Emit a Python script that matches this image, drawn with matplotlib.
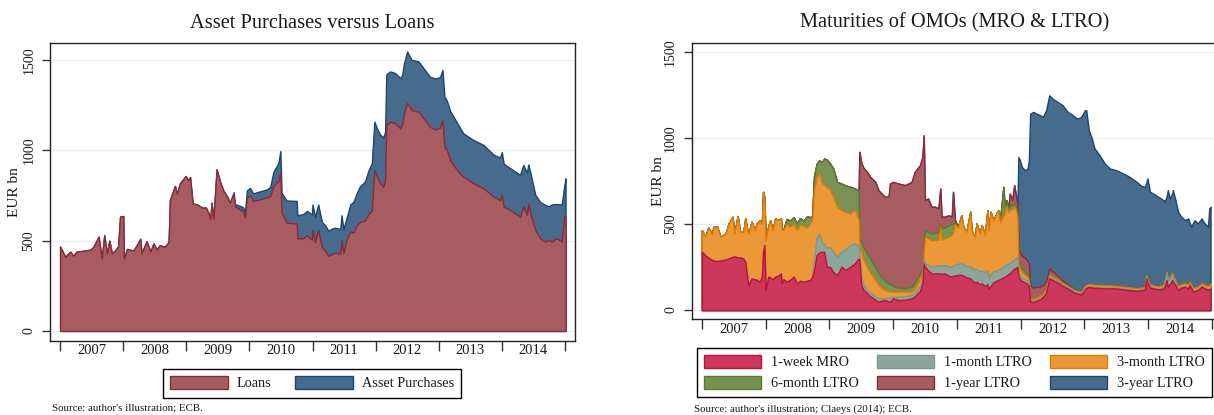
import matplotlib.pyplot as plt
import numpy as np

plt.rcParams['font.family'] = ['Liberation Serif', 'DejaVu Serif']

# ---- left panel: loans vs asset purchases (EUR bn, weekly)
loan_dates = [
    2007.00, 2007.08, 2007.16, 2007.21, 2007.26, 2007.37, 2007.48, 2007.53, 2007.61, 2007.66, 2007.70, 2007.74, 2007.78, 2007.82, 2007.87, 2007.92, 2007.95,
    2008.00, 2008.01, 2008.06, 2008.16, 2008.22, 2008.27, 2008.29, 2008.37, 2008.43, 2008.48, 2008.53, 2008.58, 2008.66, 2008.72, 2008.74, 2008.78, 2008.82, 2008.85, 2008.90, 2008.99,
    2009.03, 2009.06, 2009.10, 2009.17, 2009.25, 2009.31, 2009.35, 2009.38, 2009.40, 2009.43, 2009.48, 2009.54, 2009.59, 2009.64, 2009.69, 2009.75, 2009.77, 2009.85, 2009.90, 2009.93, 2009.96,
    2010.01, 2010.06, 2010.28, 2010.33, 2010.38, 2010.46, 2010.49, 2010.51, 2010.59, 2010.75, 2010.76, 2010.86, 2010.91, 2010.99,
    2011.00, 2011.04, 2011.09, 2011.15, 2011.20, 2011.25, 2011.33, 2011.36, 2011.44, 2011.46, 2011.49, 2011.54, 2011.60, 2011.65, 2011.70, 2011.75, 2011.83, 2011.89, 2011.94, 2011.98,
    2012.02, 2012.07, 2012.12, 2012.15, 2012.17, 2012.23, 2012.31, 2012.39, 2012.42, 2012.45, 2012.50, 2012.57, 2012.68, 2012.78, 2012.86, 2012.94,
    2013.02, 2013.06, 2013.09, 2013.13, 2013.18, 2013.29, 2013.39, 2013.55, 2013.71, 2013.87, 2013.97,
    2014.00, 2014.03, 2014.13, 2014.29, 2014.34, 2014.40, 2014.42, 2014.46, 2014.53, 2014.61, 2014.69, 2014.74, 2014.79, 2014.87, 2014.95, 2014.99,
    2015.01,
]
loans = [
    467, 411, 439, 416, 439, 444, 450, 467, 522, 400, 531, 428, 500, 430, 445, 470, 633,
    637, 400, 454, 445, 478, 510, 430, 497, 440, 485, 450, 475, 465, 494, 725, 764, 803, 760, 818, 858,
    835, 852, 707, 700, 683, 683, 655, 620, 710, 620, 895, 820, 775, 748, 710, 760, 692, 673, 660, 630, 739,
    750, 720, 739, 748, 803, 830, 876, 655, 600, 595, 513, 513, 530, 505,
    560, 490, 560, 463, 445, 416, 430, 433, 430, 505, 430, 505, 551, 545, 585, 603, 612, 649, 668, 891,
    854, 818, 799, 836, 1141, 1159, 1150, 1122, 1140, 1205, 1264, 1223, 1214, 1168, 1131, 1116,
    1125, 1168, 1020, 1002, 947, 891, 854, 818, 790, 744, 725,
    752, 688, 670, 633, 688, 642, 707, 640, 559, 513, 495, 505, 495, 513, 495, 633,
    633,
]
asset_purchases = [
    0, 0, 0, 0, 0, 0, 0, 0, 0, 0, 0, 0, 0, 0, 0, 0, 0,
    0, 0, 0, 0, 0, 0, 0, 0, 0, 0, 0, 0, 0, 0, 0, 0, 0, 0, 0, 0,
    0, 0, 0, 0, 0, 0, 0, 0, 0, 0, 0, 0, 0, 0, 0, 8, 10, 20, 25, 30, 40,
    42, 42, 45, 50, 77, 100, 120, 110, 122, 125, 127, 135, 135, 140,
    140, 140, 140, 140, 140, 140, 140, 138, 135, 135, 135, 120, 150, 170, 178, 197, 215, 242, 260, 268,
    268, 270, 272, 265, 280, 278, 278, 278, 275, 277, 283, 278, 278, 277, 277, 282,
    280, 277, 278, 272, 272, 262, 240, 239, 240, 232, 235,
    238, 238, 232, 231, 231, 235, 215, 225, 195, 200, 203, 185, 205, 190, 205, 170,
    212,
]

# ---- right panel: maturities of OMOs (EUR bn)
omo_dates = [
    2007.00, 2007.05, 2007.10, 2007.16, 2007.18, 2007.24, 2007.29, 2007.37, 2007.42, 2007.48, 2007.51, 2007.56, 2007.60, 2007.65, 2007.68, 2007.71, 2007.73, 2007.78, 2007.83, 2007.86, 2007.91, 2007.94, 2007.96, 2007.98,
    2008.00, 2008.04, 2008.07, 2008.11, 2008.15, 2008.20, 2008.24, 2008.25, 2008.28, 2008.33, 2008.38, 2008.44, 2008.49, 2008.54, 2008.59, 2008.65, 2008.70, 2008.73, 2008.76, 2008.80, 2008.84, 2008.88, 2008.92, 2008.96,
    2009.01, 2009.06, 2009.12, 2009.19, 2009.25, 2009.33, 2009.40, 2009.46, 2009.47, 2009.50, 2009.53, 2009.59, 2009.64, 2009.72, 2009.77, 2009.82, 2009.87, 2009.93, 2009.95,
    2010.00, 2010.08, 2010.19, 2010.29, 2010.34, 2010.42, 2010.46, 2010.48, 2010.50, 2010.55, 2010.60, 2010.66, 2010.71, 2010.74, 2010.76, 2010.81, 2010.87, 2010.92, 2010.94, 2010.97,
    2011.02, 2011.07, 2011.10, 2011.15, 2011.21, 2011.23, 2011.28, 2011.31, 2011.36, 2011.39, 2011.44, 2011.48, 2011.50, 2011.53, 2011.57, 2011.62, 2011.65, 2011.68, 2011.73, 2011.75, 2011.78, 2011.81, 2011.83, 2011.87, 2011.90, 2011.93, 2011.95, 2011.965, 2011.99,
    2012.02, 2012.07, 2012.11, 2012.13, 2012.15, 2012.20, 2012.25, 2012.30, 2012.35, 2012.40, 2012.45, 2012.50, 2012.58, 2012.66, 2012.74, 2012.82, 2012.89, 2012.95,
    2013.01, 2013.03, 2013.07, 2013.11, 2013.16, 2013.24, 2013.32, 2013.40, 2013.50, 2013.61, 2013.71, 2013.82, 2013.90, 2013.95, 2013.97, 2013.99,
    2014.03, 2014.08, 2014.16, 2014.24, 2014.26, 2014.29, 2014.31, 2014.34, 2014.38, 2014.39, 2014.43, 2014.47, 2014.52, 2014.58, 2014.63, 2014.65, 2014.68, 2014.71, 2014.73, 2014.78, 2014.84, 2014.89, 2014.94, 2014.96, 2014.98,
]
mro = [
    339, 320, 305, 291, 288, 285, 288, 294, 300, 310, 312, 306, 306, 300, 281, 194, 145, 184, 178, 176, 165, 194, 340, 378,
    116, 194, 190, 180, 194, 200, 213, 155, 180, 165, 175, 194, 155, 170, 165, 170, 175, 194, 230, 320, 335, 339, 339, 250,
    252, 220, 203, 252, 233, 252, 271, 300, 291, 145, 120, 97, 80, 60, 48, 55, 58, 50, 48,
    68, 58, 60, 68, 80, 110, 155, 271, 252, 230, 213, 213, 213, 213, 210, 213, 200, 194, 200, 200,
    205, 205, 200, 190, 185, 175, 160, 165, 150, 155, 140, 150, 125, 140, 160, 170, 175, 180, 190, 195, 200, 210, 215, 230, 240, 245, 252, 200, 180,
    170, 160, 150, 140, 50, 45, 55, 60, 75, 100, 185, 175, 160, 140, 125, 105, 95, 90,
    120, 128, 134, 132, 130, 128, 126, 126, 126, 120, 116, 112, 115, 120, 184, 160,
    130, 126, 120, 125, 135, 174, 136, 150, 174, 165, 145, 116, 130, 136, 125, 145, 125, 107, 110, 116, 136, 125, 120, 118, 126,
]
ltro_1m = [
    0, 0, 0, 0, 0, 0, 0, 0, 0, 0, 0, 0, 0, 0, 0, 0, 0, 0, 0, 0, 0, 0, 0, 0,
    0, 0, 0, 0, 0, 0, 0, 0, 0, 0, 0, 0, 0, 0, 0, 0, 0, 0, 70, 100, 111, 61, 41, 115,
    113, 120, 107, 87, 122, 126, 117, 68, 38, 55, 30, 19, 20, 20, 20, 13, 10, 22, 27,
    10, 20, 20, 19, 20, 30, 29, 29, 19, 32, 39, 42, 47, 47, 50, 49, 55, 58, 60, 62,
    65, 70, 65, 65, 70, 70, 75, 75, 75, 75, 80, 80, 60, 70, 65, 60, 60, 60, 60, 65, 65, 60, 60, 55, 55, 55, 60, 30, 25,
    20, 20, 20, 15, 10, 10, 10, 10, 10, 10, 10, 10, 10, 10, 8, 8, 8, 8,
    5, 5, 5, 5, 5, 5, 5, 5, 5, 5, 5, 5, 5, 5, 10, 10,
    5, 5, 5, 10, 20, 40, 40, 30, 35, 30, 15, 10, 5, 5, 5, 5, 5, 5, 5, 5, 5, 5, 5, 5, 5,
]
ltro_3m = [
    126, 106, 175, 149, 197, 200, 138, 152, 204, 233, 134, 241, 149, 155, 252, 276, 301, 330, 287, 328, 358, 306, 348, 281,
    291, 291, 333, 285, 339, 323, 320, 315, 285, 339, 310, 310, 310, 330, 325, 310, 330, 329, 400, 350, 349, 340, 347, 350,
    335, 320, 291, 242, 215, 184, 193, 155, 39, 140, 150, 136, 120, 95, 77, 62, 48, 38, 32,
    29, 29, 27, 20, 25, 40, 29, 40, 155, 155, 155, 152, 150, 225, 150, 155, 170, 184, 190, 238,
    210, 277, 220, 200, 317, 220, 191, 264, 221, 264, 216, 351, 280, 362, 298, 332, 346, 270, 300, 300, 336, 300, 306, 300, 306, 280, 230, 40, 35,
    30, 25, 20, 20, 10, 10, 10, 10, 10, 10, 10, 10, 10, 8, 8, 8, 8, 8,
    15, 12, 12, 12, 12, 12, 12, 12, 10, 10, 10, 10, 10, 10, 10, 10,
    12, 12, 12, 12, 12, 10, 10, 10, 10, 10, 12, 12, 15, 15, 15, 15, 15, 15, 15, 15, 15, 15, 15, 20, 25,
]
ltro_6m = [
    0, 0, 0, 0, 0, 0, 0, 0, 0, 0, 0, 0, 0, 0, 0, 0, 0, 0, 0, 0, 0, 0, 0, 0,
    0, 0, 0, 0, 0, 0, 0, 0, 5, 26, 35, 36, 40, 35, 30, 65, 35, 27, 80, 80, 77, 120, 155, 160,
    153, 164, 145, 155, 155, 155, 126, 175, 58, 60, 70, 77, 80, 75, 68, 60, 58, 45, 43,
    33, 23, 21, 29, 35, 30, 37, 40, 39, 38, 39, 43, 45, 15, 65, 63, 69, 64, 54, 10,
    5, 0, 0, 0, 0, 0, 0, 0, 0, 0, 0, 0, 0, 0, 0, 0, 0, 20, 167, 41, 39, 21, 30, 25, 20, 20, 20, 25, 25,
    20, 20, 15, 15, 5, 0, 0, 0, 0, 0, 0, 0, 0, 0, 0, 0, 0, 0,
    0, 0, 0, 0, 0, 0, 0, 0, 0, 0, 0, 0, 0, 0, 0, 0,
    0, 0, 0, 0, 0, 0, 0, 0, 0, 0, 0, 0, 0, 0, 0, 0, 0, 0, 0, 0, 0, 0, 0, 0, 0,
]
ltro_1y = [
    0, 0, 0, 0, 0, 0, 0, 0, 0, 0, 0, 0, 0, 0, 0, 0, 0, 0, 0, 0, 0, 0, 0, 0,
    0, 0, 0, 0, 0, 0, 0, 0, 0, 0, 0, 0, 0, 0, 0, 0, 0, 0, 0, 0, 0, 0, 0, 0,
    0, 0, 0, 0, 0, 0, 0, 0, 495, 460, 460, 475, 475, 496, 485, 488, 485, 507, 586,
    606, 606, 599, 610, 644, 633, 641, 637, 175, 194, 155, 151, 136, 207, 68, 63, 58, 43, 184, 13,
    0, 0, 0, 0, 0, 0, 0, 0, 0, 0, 0, 0, 0, 0, 0, 0, 0, 0, 0, 0, 0, 0, 67, 30, 106, 59, 58, 60, 70,
    75, 80, 80, 80, 70, 65, 60, 55, 50, 45, 35, 30, 20, 15, 10, 5, 0, 0,
    0, 0, 0, 0, 0, 0, 0, 0, 0, 0, 0, 0, 0, 0, 0, 0,
    0, 0, 0, 0, 0, 0, 0, 0, 0, 0, 0, 0, 0, 0, 0, 0, 0, 0, 0, 0, 0, 0, 0, 0, 0,
]
ltro_3y = [
    0, 0, 0, 0, 0, 0, 0, 0, 0, 0, 0, 0, 0, 0, 0, 0, 0, 0, 0, 0, 0, 0, 0, 0,
    0, 0, 0, 0, 0, 0, 0, 0, 0, 0, 0, 0, 0, 0, 0, 0, 0, 0, 0, 0, 0, 0, 0, 0,
    0, 0, 0, 0, 0, 0, 0, 0, 0, 0, 0, 0, 0, 0, 0, 0, 0, 0, 0,
    0, 0, 0, 0, 0, 0, 0, 0, 0, 0, 0, 0, 0, 0, 0, 0, 0, 0, 0, 0,
    0, 0, 0, 0, 0, 0, 0, 0, 0, 0, 0, 0, 0, 0, 0, 0, 0, 0, 0, 0, 0, 0, 0, 0, 0, 0, 0, 536, 537,
    518, 509, 539, 602, 998, 1023, 1008, 1000, 979, 998, 1010, 1006, 1011, 1019, 1002, 1008, 1003, 1018,
    1023, 1018, 896, 859, 793, 756, 710, 681, 673, 660, 644, 619, 591, 582, 536, 586,
    541, 535, 522, 493, 463, 436, 512, 459, 461, 493, 468, 434, 393, 367, 388, 345, 340, 383, 393, 368, 377, 359, 345, 448, 445,
]

years = list(range(2007, 2015))

# colours (fill, edge)
RED = ('#a65c61', '#8c2a35')
BLUE = ('#476b8c', '#1c4670')
CRIMSON = ('#cc375c', '#c0103a')
SAGE = ('#8ca69b', '#7a988c')
ORANGE = ('#ea9838', '#e07b00')
GREEN = ('#789155', '#5a7a30')
TXT = '#1a1a1a'

W, H = 1214, 415
fig = plt.figure(figsize=(W / 100, H / 100), dpi=100)
ax1 = fig.add_axes([50 / W, 1 - 340.7 / H, 525 / W, 298 / H])
ax2 = fig.add_axes([691.7 / W, 1 - 319.3 / H, 530.3 / W, 276.6 / H])


def style(ax, ylim):
    ax.set_xlim(2006.84, 2015.16)
    ax.set_ylim(*ylim)
    ax.set_yticks([0, 500, 1000, 1500])
    ax.set_xticks(range(2007, 2016))
    ax.set_xticklabels([])
    ax.set_xticks(np.array(years) + 0.5, minor=True)
    ax.set_xticklabels([str(y) for y in years], minor=True)
    ax.tick_params(axis='x', which='major', length=7, width=1, color='#333333')
    ax.tick_params(axis='x', which='minor', length=0, pad=2.5, labelsize=10.5, labelcolor=TXT)
    ax.tick_params(axis='y', length=6, width=1, color='#333333', pad=4.5,
                   labelsize=10, labelcolor=TXT, labelrotation=90)
    for lab in ax.get_yticklabels():
        lab.set_verticalalignment('center')
    ax.grid(axis='y', color='#e6eef0', lw=1)
    ax.set_axisbelow(True)
    for sp in ax.spines.values():
        sp.set_linewidth(1)
        sp.set_color('#222222')


# left panel: areas drawn from zero, top series first
x1 = np.array(loan_dates)
total = np.array(loans) + np.array(asset_purchases)
h_ap = ax1.fill_between(x1, 0, total, facecolor=BLUE[0], edgecolor=BLUE[1], lw=1.0, zorder=2)
h_loans = ax1.fill_between(x1, 0, loans, facecolor=RED[0], edgecolor=RED[1], lw=1.0, zorder=3)
style(ax1, (-54, 1596))

# right panel: stacked maturities
x2 = np.array(omo_dates)
series = [mro, ltro_1m, ltro_3m, ltro_6m, ltro_1y, ltro_3y]
names = ['1-week MRO', '1-month LTRO', '3-month LTRO', '6-month LTRO', '1-year LTRO', '3-year LTRO']
cols = [CRIMSON, SAGE, ORANGE, GREEN, RED, BLUE]
cum = np.cumsum(np.array(series, dtype=float), axis=0)
handles = {}
for i in reversed(range(len(series))):
    handles[names[i]] = ax2.fill_between(x2, 0, cum[i], facecolor=cols[i][0],
                                         edgecolor=cols[i][1], lw=1.0, zorder=2 + (6 - i))
style(ax2, (-54, 1556))

# titles and labels
fig.text(312.4 / W, 1 - 23 / H, 'Asset Purchases versus Loans', ha='center', va='center',
         fontsize=14.7, color=TXT)
fig.text(955 / W, 1 - 23 / H, 'Maturities of OMOs (MRO & LTRO)', ha='center', va='center',
         fontsize=14.7, color=TXT)
fig.text(14.7 / W, 1 - 191.7 / H, 'EUR bn', rotation=90, ha='center', va='center',
         fontsize=11, color=TXT)
fig.text(659 / W, 1 - 181 / H, 'EUR bn', rotation=90, ha='center', va='center',
         fontsize=11, color=TXT)

# legends
leg_kw = dict(frameon=True, fancybox=False, edgecolor='black', framealpha=1, fontsize=10.3,
              handlelength=4.0, handleheight=1.05, handletextpad=0.66, borderpad=0.5,
              borderaxespad=0, labelcolor=TXT)
leg1 = fig.legend([h_loans, h_ap], ['Loans', 'Asset Purchases'], loc='upper center',
                  bbox_to_anchor=(312.3 / W, 1 - 368.7 / H), ncol=2, columnspacing=1.64, **leg_kw)
leg1.get_frame().set_linewidth(1.0)

order = ['1-week MRO', '6-month LTRO', '1-month LTRO', '1-year LTRO', '3-month LTRO', '3-year LTRO']
leg2 = fig.legend([handles[n] for n in order], order, loc='upper left',
                  bbox_to_anchor=(696.7 / W, 1 - 347.7 / H), ncol=3, columnspacing=1.3,
                  labelspacing=0.44, **leg_kw)
leg2.get_frame().set_linewidth(1.0)

fig.text(52 / W, 1 - 404 / H, "Source: author's illustration; ECB.", ha='left', va='top',
         fontsize=7.8, color=TXT)
fig.text(694 / W, 1 - 404 / H, "Source: author's illustration; Claeys (2014); ECB.", ha='left',
         va='top', fontsize=7.8, color=TXT)

fig.savefig('out.png', dpi=100)
